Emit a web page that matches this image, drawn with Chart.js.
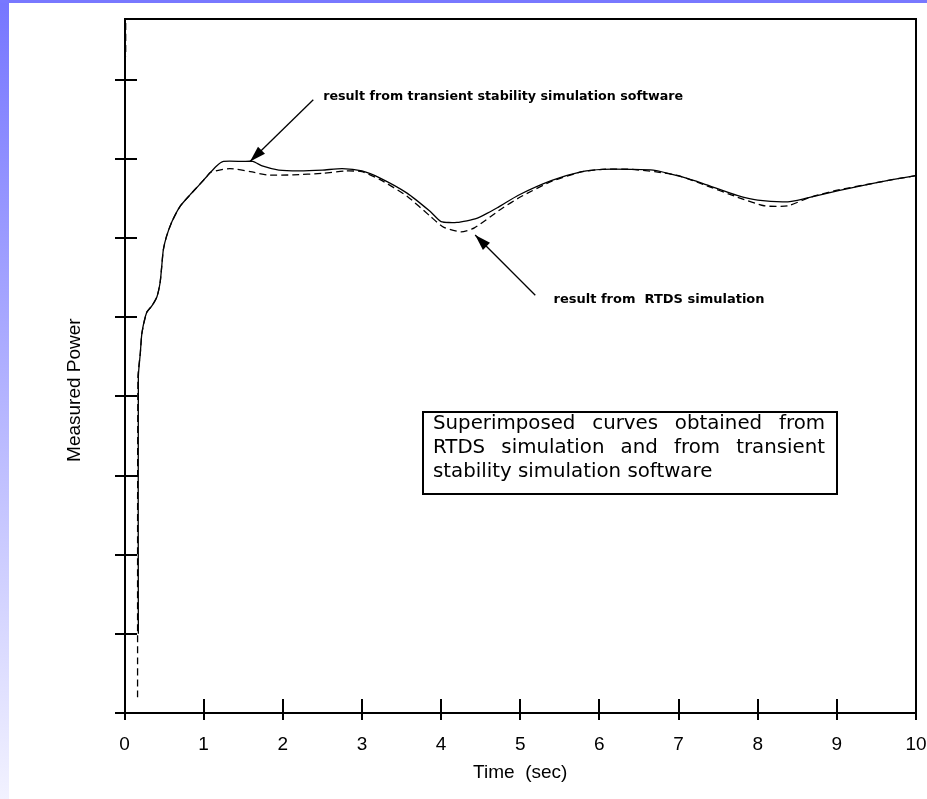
<!DOCTYPE html>
<html>
<head>
<meta charset="utf-8">
<title>Measured Power</title>
<script src="https://cdn.jsdelivr.net/npm/chart.js@4.4.0/dist/chart.umd.min.js"></script>
<style>
  html, body { margin: 0; padding: 0; background: #fff; }
  #wrap { position: relative; width: 927px; height: 799px; overflow: hidden; background: #fff; }
  #leftBar { position: absolute; left: 0; top: 0; width: 9px; height: 799px; background: linear-gradient(to bottom, #7676ff, #f2f2ff); }
  #topBar { position: absolute; left: 0; top: 0; width: 927px; height: 3px; background: #7878ff; }
  canvas { position: absolute; left: 0; top: 0; }
</style>
</head>
<body>
<div id="wrap">
  <div id="leftBar"></div>
  <div id="topBar"></div>
  <canvas id="powerChart" width="927" height="799"></canvas>
</div>
<script>
// tick positions (no labels on the power axis)
const timeTicks = [0, 1, 2, 3, 4, 5, 6, 7, 8, 9, 10];
const powerTicks = [0, 1, 2, 3, 4, 5, 6, 7, 8];

// result from transient stability simulation software (solid)
const swTime = [0.175, 0.175, 0.2, 0.22, 0.28, 0.35, 0.41, 0.45, 0.47, 0.49, 0.53, 0.6, 0.7, 0.83, 0.95, 1.04,
  1.16, 1.25, 1.5, 1.62, 1.75, 1.95, 2.2, 2.5, 2.75, 3.0, 3.23, 3.57, 3.86, 4.0, 4.2, 4.45, 4.72, 4.97,
  5.4, 5.78, 6.04, 6.4, 6.68, 7.02, 7.31, 7.74, 8.0, 8.38, 8.59, 9.02, 9.44, 9.7, 10.0];
const swPower = [1.0, 4.25, 4.55, 4.8, 5.06, 5.15, 5.26, 5.44, 5.64, 5.85, 6.02, 6.21, 6.4, 6.55, 6.68, 6.78,
  6.91, 6.97, 6.97, 6.97, 6.91, 6.86, 6.85, 6.86, 6.88, 6.85, 6.76, 6.57, 6.34, 6.21, 6.2, 6.25, 6.39, 6.54,
  6.73, 6.84, 6.87, 6.87, 6.86, 6.78, 6.69, 6.54, 6.48, 6.46, 6.5, 6.6, 6.69, 6.74, 6.79];

// result from RTDS simulation (dashed)
const rtdsTime = [0.015, 0.015, 0.1, 0.165, 0.17, 0.2, 0.22, 0.28, 0.35, 0.41, 0.45, 0.47, 0.49, 0.53, 0.6, 0.7, 0.83, 0.95, 1.04,
  1.08, 1.33, 1.59, 1.8, 2.13, 2.5, 2.8, 3.0, 3.23, 3.57, 3.86, 4.03, 4.25, 4.42, 4.76, 5.0,
  5.4, 5.78, 6.04, 6.4, 6.7, 7.0, 7.31, 7.74, 8.08, 8.38, 8.67, 9.02, 9.44, 9.7, 10.0];
const rtdsPower = [8.72, 8.3, null, 0.2, 4.25, 4.55, 4.8, 5.06, 5.15, 5.26, 5.44, 5.64, 5.85, 6.02, 6.21, 6.4, 6.55, 6.68, 6.78,
  6.83, 6.88, 6.84, 6.8, 6.8, 6.82, 6.85, 6.84, 6.74, 6.53, 6.28, 6.14, 6.08, 6.13, 6.37, 6.52,
  6.72, 6.84, 6.87, 6.87, 6.84, 6.79, 6.68, 6.52, 6.41, 6.41, 6.52, 6.61, 6.69, 6.74, 6.79];

const boxLines = [
  'Superimposed curves obtained from',
  'RTDS simulation and from transient',
  'stability simulation software'
];

const toPoints = (xs, ys) => xs.map((x, i) => ({ x: x, y: ys[i] }));

// frame, cross ticks, axis title and the notes, placed through the chart scales
const overlay = {
  id: 'overlay',
  afterDatasetsDraw(chart) {
    const { ctx, chartArea: a, scales: { x, y } } = chart;
    const L = Math.round(a.left), R = Math.round(a.right), T = Math.round(a.top), B = Math.round(a.bottom);
    ctx.save();
    ctx.strokeStyle = '#000';
    ctx.fillStyle = '#000';
    ctx.lineWidth = 2;
    ctx.strokeRect(L, T, R - L, B - T);
    ctx.beginPath();
    x.ticks.forEach(t => {
      const px = Math.round(x.getPixelForValue(t.value));
      ctx.moveTo(px, B - 14); ctx.lineTo(px, B + 7);
    });
    y.ticks.forEach(t => {
      const py = Math.round(y.getPixelForValue(t.value));
      ctx.moveTo(L - 10, py); ctx.lineTo(L + 12, py);
    });
    ctx.stroke();

    // y axis title, sits a little below the middle of the axis
    ctx.save();
    ctx.translate(L - 50, y.getPixelForValue(4.08));
    ctx.rotate(-Math.PI / 2);
    ctx.font = '19px "Liberation Sans", Arial, sans-serif';
    ctx.textAlign = 'center';
    ctx.textBaseline = 'middle';
    ctx.fillText('Measured Power', 0, 0);
    ctx.restore();

    const arrow = (fx, fy, tx, ty) => {
      const x0 = x.getPixelForValue(fx), y0 = y.getPixelForValue(fy);
      const x1 = x.getPixelForValue(tx), y1 = y.getPixelForValue(ty);
      const ang = Math.atan2(y1 - y0, x1 - x0);
      ctx.lineWidth = 1.3;
      ctx.beginPath();
      ctx.moveTo(x0, y0); ctx.lineTo(x1, y1);
      ctx.stroke();
      ctx.beginPath();
      ctx.moveTo(x1, y1);
      ctx.lineTo(x1 - 16 * Math.cos(ang) + 5 * Math.sin(ang), y1 - 16 * Math.sin(ang) - 5 * Math.cos(ang));
      ctx.lineTo(x1 - 16 * Math.cos(ang) - 5 * Math.sin(ang), y1 - 16 * Math.sin(ang) + 5 * Math.cos(ang));
      ctx.closePath();
      ctx.fill();
    };
    arrow(2.385, 7.75, 1.586, 6.97);
    arrow(5.19, 5.28, 4.43, 6.04);

    ctx.font = 'bold 13px "DejaVu Sans"';
    ctx.textBaseline = 'middle';
    ctx.textAlign = 'left';
    ctx.fillText('result from transient stability simulation software', x.getPixelForValue(2.51), y.getPixelForValue(7.79), 360);
    ctx.fillText('result from  RTDS simulation', x.getPixelForValue(5.42), y.getPixelForValue(5.23), 212);

    // text box
    const bx0 = Math.round(x.getPixelForValue(3.775)), bx1 = Math.round(x.getPixelForValue(9.006));
    const by0 = Math.round(y.getPixelForValue(3.81)), by1 = Math.round(y.getPixelForValue(2.765));
    ctx.lineWidth = 2;
    ctx.fillStyle = '#fff';
    ctx.fillRect(bx0, by0, bx1 - bx0, by1 - by0);
    ctx.strokeRect(bx0, by0, bx1 - bx0, by1 - by0);
    ctx.fillStyle = '#000';
    ctx.font = '19.8px "DejaVu Sans"';
    const tl = bx0 + 10, tr = bx1 - 12;
    boxLines.forEach((line, i) => {
      const ly = by0 + 12 + i * 24;
      const words = line.split(' ');
      if (i === boxLines.length - 1) { ctx.fillText(line, tl, ly); return; }
      const used = words.reduce((s, w) => s + ctx.measureText(w).width, 0);
      const gap = (tr - tl - used) / (words.length - 1);
      let cx = tl;
      words.forEach(w => { ctx.fillText(w, cx, ly); cx += ctx.measureText(w).width + gap; });
    });
    ctx.restore();
  }
};

Chart.defaults.font.family = "'Liberation Sans', Arial, sans-serif";
Chart.defaults.color = '#000';

new Chart(document.getElementById('powerChart').getContext('2d'), {
  type: 'line',
  data: {
    datasets: [
      {
        label: 'result from transient stability simulation software',
        data: toPoints(swTime, swPower),
        borderColor: '#000',
        borderWidth: 1.3,
        pointRadius: 0,
        tension: 0.2,
        fill: false
      },
      {
        label: 'result from RTDS simulation',
        data: toPoints(rtdsTime, rtdsPower),
        borderColor: '#000',
        borderWidth: 1.3,
        borderDash: [7, 4],
        pointRadius: 0,
        tension: 0.2,
        spanGaps: false,
        fill: false
      }
    ]
  },
  options: {
    responsive: false,
    animation: false,
    devicePixelRatio: 1,
    layout: { padding: { left: 0, right: 11, top: 19, bottom: 0 } },
    plugins: { legend: { display: false }, tooltip: { enabled: false } },
    scales: {
      x: {
        type: 'linear',
        min: 0,
        max: 10,
        afterBuildTicks: s => { s.ticks = timeTicks.map(v => ({ value: v })); },
        afterFit: s => { s.height = 86; s.paddingLeft = 0; s.paddingRight = 0; },
        grid: { display: false, drawTicks: false },
        border: { display: false },
        ticks: { color: '#000', font: { size: 19 }, padding: 20, maxRotation: 0, autoSkip: false },
        title: { display: true, text: 'Time  (sec)', color: '#000', font: { size: 19 }, padding: { top: 0, bottom: 14.6 } }
      },
      y: {
        min: 0,
        max: 8.77,
        afterBuildTicks: s => { s.ticks = powerTicks.map(v => ({ value: v })); },
        afterFit: s => { s.width = 124.5; },
        grid: { display: false, drawTicks: false },
        border: { display: false },
        ticks: { display: false },
        title: { display: false }
      }
    }
  },
  plugins: [overlay]
});
</script>
</body>
</html>
